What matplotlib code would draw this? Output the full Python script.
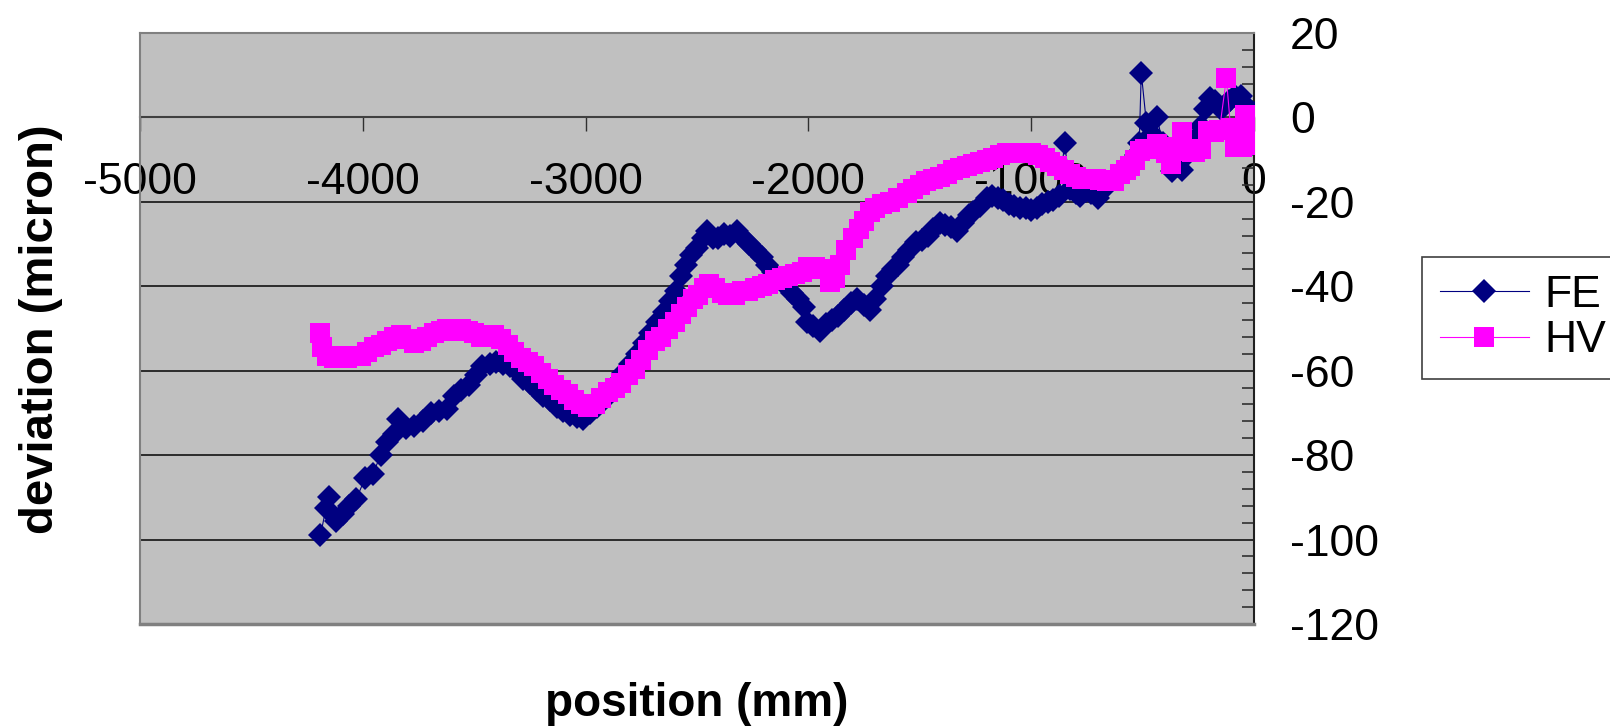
import matplotlib
matplotlib.use("Agg")
import matplotlib.pyplot as plt
from matplotlib.ticker import MultipleLocator

plt.rcParams['font.family'] = ['Liberation Sans', 'DejaVu Sans']
plt.rcParams['axes.unicode_minus'] = False

# FE series: position (mm), deviation (micron)
fe_x = [-4190, -4165, -4150, -4120, -4090, -4060, -4030, -3990, -3955, -3920,
        -3890, -3860, -3840, -3805, -3770, -3730, -3695, -3660, -3620, -3590,
        -3560, -3525, -3490, -3465, -3430, -3400, -3370, -3340, -3310, -3280,
        -3250, -3220, -3190, -3160, -3130, -3100, -3070, -3040, -3010, -2980,
        -2950, -2920, -2890, -2860, -2830, -2800, -2770, -2740, -2710, -2680,
        -2650, -2620, -2595, -2570, -2550, -2525, -2500, -2475, -2455, -2430,
        -2405, -2380, -2350, -2320, -2295, -2265, -2240, -2210, -2185, -2160,
        -2130, -2100, -2075, -2045, -2020, -2005, -1980, -1950, -1920, -1895,
        -1865, -1840, -1810, -1780, -1750, -1725, -1700, -1670, -1645, -1620,
        -1600, -1575, -1550, -1515, -1490, -1465, -1440, -1410, -1385, -1360,
        -1335, -1305, -1280, -1262, -1230, -1200, -1175, -1150, -1125, -1100,
        -1075, -1050, -1025, -1000, -975, -950, -925, -900, -875, -850,
        -825, -800, -780, -755, -730, -700, -675, -650, -625, -600,
        -575, -555, -530, -515, -506, -483, -460, -436, -410, -390,
        -370, -345, -325, -300, -280, -265, -240, -220, -198, -175,
        -150, -130, -110, -85, -60, -40, -15, 0]
fe_y = [-99, -92.5, -90, -95.5, -94, -92, -90.5, -85.5, -84.5, -80,
        -77, -75, -71.5, -73.5, -73, -72, -70, -69.5, -69, -66,
        -64.5, -63.5, -61, -59, -58.5, -58, -58.5, -59, -60, -62,
        -63, -64.5, -66, -67, -68.5, -69.5, -70.5, -71, -71.5, -70,
        -68.5, -67, -65.5, -63, -60.5, -58.5, -56, -53.5, -51, -48.5,
        -46, -43.5, -41, -37.5, -35, -32.5, -31, -28.5, -27, -28.5,
        -28.5, -27.5, -28, -27, -28.5, -30, -31.5, -33, -35, -36.5,
        -38, -40, -41.5, -43, -45, -48.5, -49.5, -50.5, -49, -48,
        -47, -45.5, -44, -43, -44.5, -45.5, -43, -40, -37.5, -36,
        -35, -33, -31.5, -29.5, -29, -28, -26.5, -25, -25.5, -26,
        -27, -25, -23, -22.5, -21, -19, -18.5, -19, -19.5, -20.5,
        -21, -21.5, -21.5, -22, -21.5, -20.5, -20, -19.5, -18.5, -6,
        -17, -18, -18.5, -17.5, -18, -19, -17, -15.5, -14, -13,
        -12, -11, -9, -6, 10.6, -1.3, -4, 0.2, -6, -9,
        -12.8, -11.5, -12.5, -9, -7, -5, -2, 2, 4.5, 4,
        2, 3, 4, 5, 5, 3, -6.5, 1]

# HV series
hv_x = [-4190, -4185, -4160, -4130, -4100, -4070, -4040, -4010, -3980, -3950,
        -3920, -3890, -3860, -3830, -3800, -3770, -3740, -3710, -3680, -3650,
        -3620, -3590, -3560, -3530, -3500, -3470, -3440, -3410, -3380, -3350,
        -3320, -3290, -3260, -3230, -3200, -3170, -3140, -3110, -3080, -3050,
        -3020, -2990, -2960, -2930, -2900, -2870, -2840, -2810, -2780, -2750,
        -2720, -2690, -2660, -2630, -2600, -2570, -2545, -2520, -2495, -2470,
        -2445, -2420, -2390, -2360, -2330, -2300, -2270, -2240, -2210, -2180,
        -2150, -2120, -2090, -2060, -2030, -2000, -1970, -1940, -1905, -1880,
        -1860, -1830, -1800, -1775, -1750, -1725, -1700, -1670, -1632, -1600,
        -1558, -1530, -1500, -1470, -1440, -1410, -1380, -1350, -1320, -1290,
        -1262, -1230, -1200, -1170, -1142, -1110, -1080, -1050, -1020, -1000,
        -970, -940, -914, -885, -855, -827, -800, -770, -740, -710,
        -690, -660, -630, -600, -575, -555, -535, -513, -490, -465,
        -436, -415, -395, -372, -350, -325, -300, -280, -265, -240,
        -205, -180, -155, -124, -105, -85, -70, -55, -40, -25, -10]
hv_y = [-51, -54.5, -56.5, -57, -56.5, -57, -56.5, -56.5, -55.5, -54.5,
        -54, -53, -52, -51.5, -52.5, -53.5, -53, -52, -51, -50.5,
        -50, -50.5, -50, -50.5, -51, -52, -52, -51.5, -52.5, -54,
        -55.5, -57, -58, -59, -60.5, -62, -63.5, -64.5, -65.5, -67,
        -68, -68.5, -68, -66.5, -65, -64, -63, -61, -59.5, -57.5,
        -55, -53, -52, -50, -48.5, -46.5, -45, -43, -42, -40.5,
        -39.5, -40.5, -41.5, -42, -42, -41, -41, -40.5, -40, -39.5,
        -38.5, -38, -37.5, -37, -36.5, -35.5, -35.5, -36, -39, -38,
        -35, -31.5, -28.5, -26.5, -24.5, -22.5, -21.5, -20.5, -20, -19,
        -18, -17, -16, -15, -14.5, -14, -13.5, -12.5, -12, -11.5,
        -11, -10.5, -10, -9.5, -9, -8.5, -8.5, -8.5, -8.5, -8.5,
        -9, -9.5, -10.5, -11.5, -12.5, -13.5, -14, -14.5, -14.5, -14.5,
        -14.8, -15, -15, -13.5, -12.5, -11.5, -10, -8, -7.5, -7.5,
        -6.3, -7, -8.5, -11, -7, -3.5, -8, -8.2, -8.2, -7.5,
        -3.2, -3.5, -3, 9.3, -2.5, -7, -6, -7, 0.6, -2, -6.5]

x_ticks = [-5000, -4000, -3000, -2000, -1000, 0]
y_ticks = [-120, -100, -80, -60, -40, -20, 0, 20]

fig = plt.figure(figsize=(16.1, 7.26), dpi=100)
ax = fig.add_axes([140 / 1610, 1 - 624 / 726, 1114 / 1610, 591 / 726])
ax.set_facecolor('#C0C0C0')

ax.plot(fe_x, fe_y, color='#000080', linewidth=0.8, marker='D', markersize=12.5,
        markeredgewidth=0, label='FE', zorder=3)
ax.plot(hv_x, hv_y, color='#FF00FF', linewidth=0.8, marker='s', markersize=14.5,
        markeredgewidth=0, label='HV', zorder=4)

ax.set_xlim(-5000, 0)
ax.set_ylim(-120, 20)
ax.set_xticks(x_ticks)
ax.set_xticklabels([str(v) for v in x_ticks])
ax.set_yticks(y_ticks)
ax.set_yticklabels([str(v) for v in y_ticks])
ax.yaxis.set_minor_locator(MultipleLocator(4))

ax.yaxis.tick_right()
ax.tick_params(axis='y', which='major', direction='in', length=9, width=1.2,
               color='#303030', labelsize=32, pad=26)
ax.tick_params(axis='y', which='minor', direction='in', length=9, width=1.2,
               color='#303030')
ax.tick_params(axis='x', which='major', direction='out', length=10, width=1,
               color='#303030', labelsize=32, pad=22)

ax.grid(axis='y', which='major', color='#202020', linewidth=1.3, zorder=1)
ax.set_axisbelow(True)

ax.spines['bottom'].set_position(('data', 0))
ax.spines['bottom'].set_color('#404040')
ax.spines['bottom'].set_linewidth(1.5)
ax.spines['bottom'].set_zorder(2)
ax.spines['right'].set_color('#202020')
ax.spines['right'].set_linewidth(1.5)
for s in ['left', 'top']:
    ax.spines[s].set_color('#808080')
    ax.spines[s].set_linewidth(1.5)
ax.axhline(-120, color='#808080', linewidth=2.5, clip_on=False, zorder=5)

fig.text(41 / 1610, 1 - 329 / 726, 'deviation (micron)', rotation=90,
         ha='center', va='center', fontsize=34, fontweight='bold')
fig.text(697 / 1610, 1 - 704 / 726, 'position (mm)',
         ha='center', va='center', fontsize=33, fontweight='bold')

leg = fig.legend(loc='upper left', bbox_to_anchor=(1422 / 1610, 1 - 257 / 726),
                 fontsize=32, frameon=True, fancybox=False, framealpha=1,
                 edgecolor='#404040', handlelength=2.0, handletextpad=0.35,
                 labelspacing=0.1, borderpad=0.4, borderaxespad=0)
leg.get_frame().set_linewidth(1.2)

fig.savefig('out.png', dpi=100)
